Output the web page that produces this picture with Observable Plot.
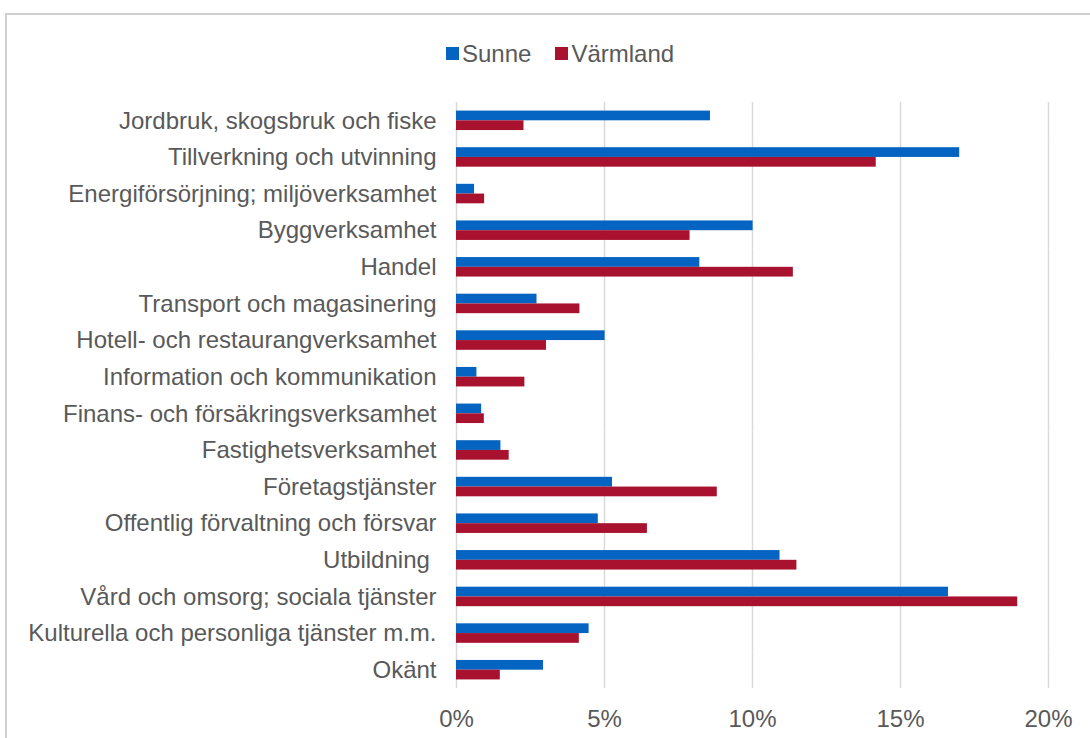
<!DOCTYPE html>
<html>
<head>
<meta charset="utf-8">
<script src="https://cdn.jsdelivr.net/npm/d3@7"></script>
<script src="https://cdn.jsdelivr.net/npm/@observablehq/plot@0.6"></script>
<style>
  html, body { margin: 0; padding: 0; background: #fff; }
  #wrap { position: relative; width: 1090px; height: 738px; overflow: hidden; font-family: "Liberation Sans", Arial, sans-serif; }
  #frame { position: absolute; left: 5px; top: 13px; width: 1200px; height: 900px; border: 2px solid #d0d0d0; box-sizing: border-box; }
  #legend { position: absolute; top: 40px; left: 446px; display: flex; align-items: center; font-size: 24px; line-height: 27px; color: #595959; }
  #legend .sw { display: inline-block; width: 13px; height: 13px; margin-right: 3px; }
  #legend .item { display: flex; align-items: center; margin-right: 24px; }
  #chart { position: absolute; left: 0; top: 0; }
</style>
</head>
<body>
<div id="wrap">
  <div id="frame"></div>
  <div id="chart"></div>
  <div id="legend"></div>
</div>
<script>
const categories = [
  "Jordbruk, skogsbruk och fiske",
  "Tillverkning och utvinning",
  "Energiförsörjning; miljöverksamhet",
  "Byggverksamhet",
  "Handel",
  "Transport och magasinering",
  "Hotell- och restaurangverksamhet",
  "Information och kommunikation",
  "Finans- och försäkringsverksamhet",
  "Fastighetsverksamhet",
  "Företagstjänster",
  "Offentlig förvaltning och försvar",
  "Utbildning\u00a0",
  "Vård och omsorg; sociala tjänster",
  "Kulturella och personliga tjänster m.m.",
  "Okänt"
];
const series = ["Sunne", "Värmland"];
const colors = ["#0563C1", "#A8122E"];
const sunne    = [8.58, 17.0, 0.61, 10.02, 8.22, 2.72, 5.02, 0.69, 0.85, 1.50, 5.27, 4.79, 10.93, 16.62, 4.48, 2.94];
const varmland = [2.28, 14.18, 0.95, 7.89, 11.38, 4.17, 3.04, 2.31, 0.94, 1.78, 8.81, 6.45, 11.50, 18.96, 4.15, 1.48];
const xTicks = [0, 5, 10, 15, 20];

const data = [];
categories.forEach((c, i) => {
  data.push({category: c, series: series[0], value: sunne[i]});
  data.push({category: c, series: series[1], value: varmland[i]});
});

const fmt = d => d + "%";

const chart = Plot.plot({
  width: 1090,
  height: 738,
  marginLeft: 456,
  marginRight: 42,
  marginTop: 102,
  marginBottom: 50,
  style: {fontFamily: "'Liberation Sans', Arial, sans-serif", fontSize: "24px", color: "#595959", background: "transparent"},
  x: {domain: [0, 20]},
  y: {domain: series, axis: null, paddingInner: 0, paddingOuter: 0.88, round: false},
  fy: {domain: categories, padding: 0, round: false},
  color: {domain: series, range: colors},
  marks: [
    Plot.gridX(xTicks, {stroke: "#d9d9d9", strokeOpacity: 1, strokeWidth: 1.5}),
    Plot.barX(data, {x: "value", y: "series", fy: "category", fill: "series"}),
    Plot.axisX({ticks: xTicks, tickFormat: fmt, tickSize: 0, tickPadding: 21, label: null, fill: "#595959", fontSize: 24}),
    Plot.axisFy({anchor: "left", tickSize: 0, tickPadding: 20, label: null, fill: "#595959", fontSize: 24})
  ]
});
document.getElementById("chart").appendChild(chart);

const legend = document.getElementById("legend");
series.forEach((s, i) => {
  const item = document.createElement("div");
  item.className = "item";
  const sw = document.createElement("span");
  sw.className = "sw";
  sw.style.background = colors[i];
  const t = document.createElement("span");
  t.textContent = s;
  item.appendChild(sw);
  item.appendChild(t);
  legend.appendChild(item);
});
</script>
</body>
</html>
